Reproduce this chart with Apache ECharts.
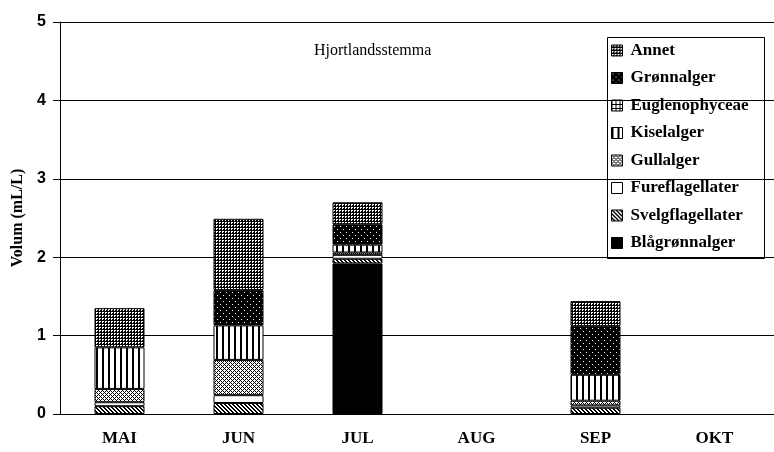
<!DOCTYPE html>
<html>
<head>
<meta charset="utf-8">
<script src="https://cdn.jsdelivr.net/npm/echarts@6/dist/echarts.min.js"></script>
<style>
  html, body { margin: 0; padding: 0; background: #fff; }
  #chart { width: 774px; height: 452px; }
</style>
</head>
<body>
<div id="chart"></div>
<script>
// Phytoplankton volume per month, Hjortlandsstemma (mL/L), stacked by group
const months = ['MAI', 'JUN', 'JUL', 'AUG', 'SEP', 'OKT'];
const yTicks = [0, 1, 2, 3, 4, 5];

const blagronnalger    = [0.00, 0.00, 1.92, 0, 0.00, 0];
const svelgflagellater = [0.10, 0.14, 0.06, 0, 0.08, 0];
const fureflagellater  = [0.05, 0.10, 0.05, 0, 0.03, 0];
const gullalger        = [0.17, 0.45, 0.03, 0, 0.06, 0];
const kiselalger       = [0.53, 0.44, 0.10, 0, 0.33, 0];
const euglenophyceae   = [0.00, 0.00, 0.00, 0, 0.00, 0];
const gronnalger       = [0.00, 0.45, 0.26, 0, 0.62, 0];
const annet            = [0.50, 0.91, 0.28, 0, 0.32, 0];

// Fill patterns for each group
function tile(w, h, draw) {
  const c = document.createElement('canvas');
  c.width = w; c.height = h;
  const g = c.getContext('2d');
  draw(g);
  return { image: c, repeat: 'repeat' };
}
function px(g, pts, col) { g.fillStyle = col; pts.forEach(p => g.fillRect(p[0], p[1], 1, 1)); }

const fills = {
  solid: '#000',
  annet: tile(3, 3, g => { g.fillStyle = '#000'; g.fillRect(0, 0, 3, 3);
    px(g, [[0, 0], [1, 0], [0, 1]], '#fff'); }),
  gronn: tile(6, 6, g => { g.fillStyle = '#000'; g.fillRect(0, 0, 6, 6);
    px(g, [[1, 1], [4, 4]], '#fff'); }),
  eugl: tile(4, 4, g => { g.fillStyle = '#fff'; g.fillRect(0, 0, 4, 4);
    g.fillStyle = '#000'; g.fillRect(0, 0, 4, 1); g.fillRect(0, 0, 1, 4); }),
  kisel: tile(6, 1, g => { g.fillStyle = '#fff'; g.fillRect(0, 0, 6, 1);
    g.fillStyle = '#000'; g.fillRect(0, 0, 2, 1); }),
  gull: tile(4, 4, g => { g.fillStyle = '#fff'; g.fillRect(0, 0, 4, 4);
    px(g, [[0, 0], [1, 1], [2, 2], [3, 3], [1, 3], [3, 1]], '#000'); }),
  fure: '#fff',
  svelg: tile(4, 4, g => { g.fillStyle = '#fff'; g.fillRect(0, 0, 4, 4);
    px(g, [[0, 0], [1, 1], [2, 2], [3, 3], [1, 0], [2, 1], [3, 2], [0, 3]], '#000'); })
};

// Stack order, bottom to top
const groups = [
  { name: 'Blågrønnalger', data: blagronnalger, fill: fills.solid },
  { name: 'Svelgflagellater', data: svelgflagellater, fill: fills.svelg },
  { name: 'Fureflagellater', data: fureflagellater, fill: fills.fure },
  { name: 'Gullalger', data: gullalger, fill: fills.gull },
  { name: 'Kiselalger', data: kiselalger, fill: fills.kisel },
  { name: 'Euglenophyceae', data: euglenophyceae, fill: fills.eugl },
  { name: 'Grønnalger', data: gronnalger, fill: fills.gronn },
  { name: 'Annet', data: annet, fill: fills.annet }
];

const serif = '"Liberation Serif", "Times New Roman", serif';
const sans = '"Liberation Sans", Arial, sans-serif';

const chart = echarts.init(document.getElementById('chart'), null, { renderer: 'canvas' });
chart.setOption({
  animation: false,
  backgroundColor: '#fff',
  title: {
    text: 'Hjortlandsstemma',
    left: 309, top: 38,
    textStyle: { fontFamily: serif, fontSize: 16, fontWeight: 'normal', color: '#000' }
  },
  legend: {
    orient: 'vertical',
    left: 611, top: 42,
    padding: 0,
    icon: 'rect',
    itemWidth: 11, itemHeight: 11, itemGap: 10.5,
    data: groups.map(g => g.name).reverse(),
    textStyle: { fontFamily: serif, fontSize: 17, fontWeight: 'bold', color: '#000', padding: [0, 0, 0, 3] },
    itemStyle: { borderColor: '#000', borderWidth: 1 }
  },
  graphic: [{
    type: 'rect', left: 607, top: 37, z: 0,
    shape: { width: 157, height: 221 },
    style: { fill: '#fff', stroke: '#000', lineWidth: 1 }
  }],
  grid: { left: 60, top: 22, width: 726, height: 392 },
  xAxis: {
    type: 'category',
    data: months,
    axisLine: { lineStyle: { color: '#000', width: 1 } },
    axisTick: { length: 7, lineStyle: { color: '#000' } },
    axisLabel: { margin: 16, fontFamily: serif, fontSize: 17, fontWeight: 'bold', color: '#000' }
  },
  yAxis: {
    type: 'value',
    min: yTicks[0], max: yTicks[yTicks.length - 1], interval: 1,
    name: 'Volum (mL/L)',
    nameLocation: 'middle',
    nameGap: 34,
    nameTextStyle: { fontFamily: serif, fontSize: 16, fontWeight: 'bold', color: '#000' },
    axisLine: { show: true, lineStyle: { color: '#000', width: 1 } },
    axisTick: { show: true, length: 7, lineStyle: { color: '#000' } },
    axisLabel: { margin: 14, fontFamily: sans, fontSize: 16, fontWeight: 'bold', color: '#000' },
    splitLine: { show: true, lineStyle: { color: '#000', width: 1 } }
  },
  series: groups.map(g => ({
    name: g.name,
    type: 'bar',
    stack: 'volum',
    barWidth: 50,
    data: g.data.map(v => (v > 0 ? v : '-')),
    itemStyle: { color: g.fill, borderColor: '#000', borderWidth: 1 },
    emphasis: { disabled: true }
  }))
});
</script>
</body>
</html>
